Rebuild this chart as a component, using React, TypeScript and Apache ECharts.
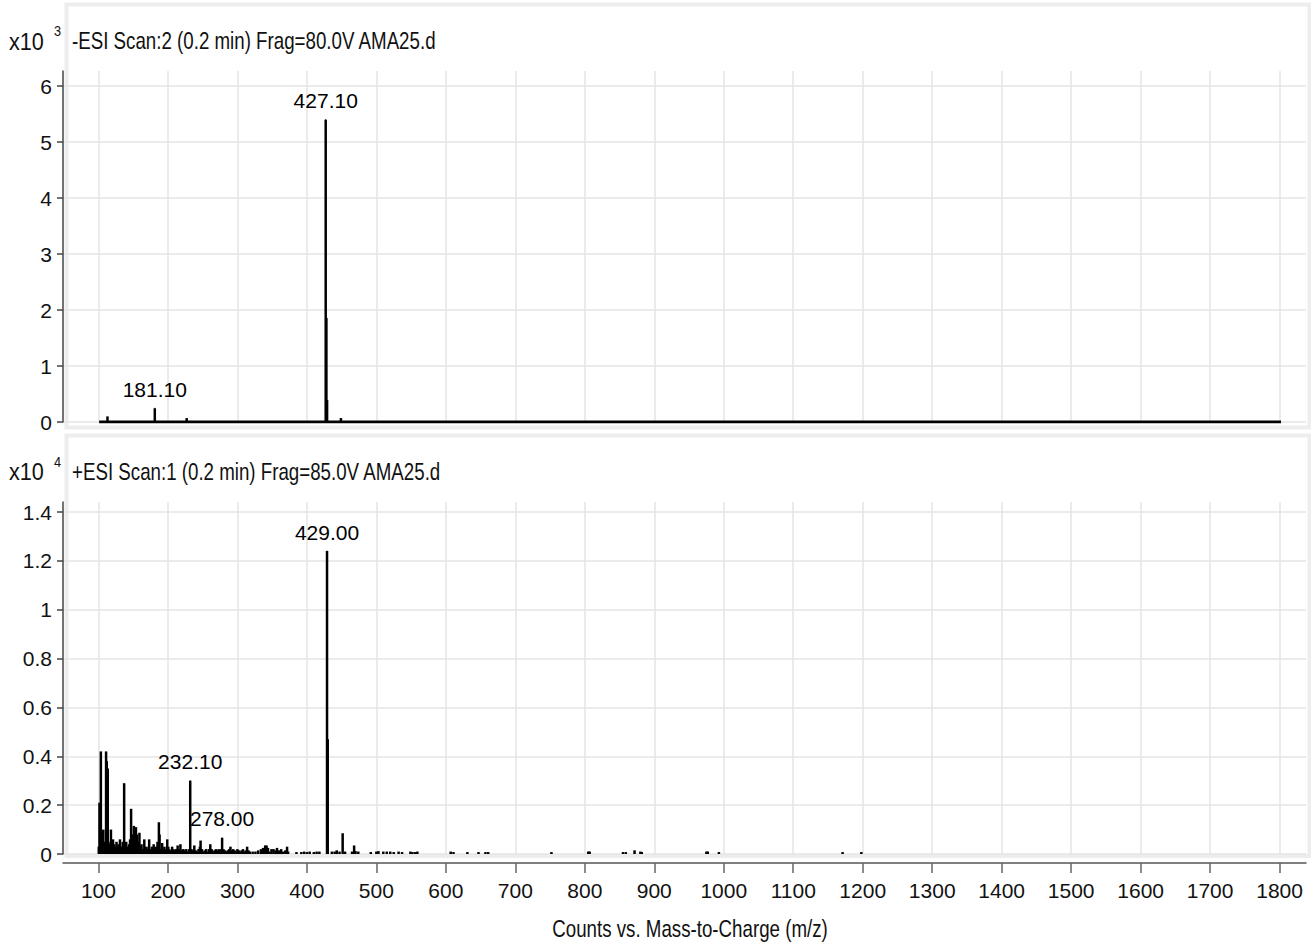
import React, { useEffect, useRef } from 'react';
import * as echarts from 'echarts';

const FONT = "'Liberation Sans', Arial, 'Noto Sans', sans-serif";

// ---- tick values ----
const xTickValues = [100, 200, 300, 400, 500, 600, 700, 800, 900, 1000, 1100, 1200, 1300, 1400, 1500, 1600, 1700, 1800];
const negYTicks = [0, 1, 2, 3, 4, 5, 6];
const posYTicks = [0, 0.2, 0.4, 0.6, 0.8, 1, 1.2, 1.4];

// ---- texts ----
const negTitle = '-ESI Scan:2 (0.2 min) Frag=80.0V AMA25.d';
const posTitle = '+ESI Scan:1 (0.2 min) Frag=85.0V AMA25.d';
const xAxisTitle = 'Counts vs. Mass-to-Charge (m/z)';
const negExponent = '3';
const posExponent = '4';

// ---- negative scan (x10^3 counts) ----
const negMz = [113.0, 181.1, 227.0, 427.1, 428.1, 429.1, 449.0];
const negInt = [0.10, 0.245, 0.07, 5.40, 1.86, 0.39, 0.07];
const negBaselineMz = [101, 1802];
const negLabelMz = [181.1, 427.1];
const negLabelInt = [0.245, 5.40];

// ---- positive scan (x10^4 counts) ----
const posMz = [
  100.5, 101.5, 102.5, 103.5, 104.5, 105.5, 107, 108, 109.5, 111, 112, 113.4, 114.5, 116, 118, 119.5,
  121, 122.5, 124, 126, 127.5, 129, 131, 133, 135, 137, 139, 140, 142, 144, 145.5, 147, 148.5, 150,
  151, 152.5, 154, 155.5, 157, 159, 160.5, 162, 164, 166, 168, 170, 172, 173, 175, 177, 179.5, 181,
  183, 185, 187, 188, 190, 191.7, 193, 195, 197, 199, 200.5, 202, 204, 206, 208, 210, 212, 214, 216,
  218, 220, 222, 224, 226, 228, 230, 232.1, 234, 236, 238, 240, 242, 244, 246, 247, 249, 251, 253,
  255, 257, 259, 261, 263, 265, 267, 269, 271, 273, 275, 276.5, 278, 280, 282, 284, 286, 288, 290,
  292, 294, 296, 298, 300, 302, 304, 306, 308, 310, 312, 314, 316, 318, 322, 326, 330, 334, 337, 340,
  342, 344, 346, 349, 352, 355, 357, 360, 363, 366, 369, 371.5, 373, 385, 392, 396, 400, 404, 410,
  414, 418, 429, 430, 436, 440, 443, 447, 451.5, 455, 465, 468, 470, 474, 492, 500, 503, 510, 515,
  520, 525, 532, 537, 549, 552, 556, 559, 607, 611, 631, 647, 657, 661, 752, 805, 807, 855, 859,
  871.6, 880, 882, 975, 977, 993, 1171, 1198
];
const posInt = [
  0.03, 0.21, 0.12, 0.42, 0.09, 0.06, 0.10, 0.03, 0.05, 0.42, 0.38, 0.35, 0.05, 0.04, 0.10, 0.05,
  0.06, 0.04, 0.03, 0.05, 0.03, 0.04, 0.06, 0.03, 0.05, 0.29, 0.04, 0.05, 0.03, 0.04, 0.06, 0.185, 0.05, 0.08,
  0.115, 0.10, 0.11, 0.08, 0.05, 0.087, 0.03, 0.04, 0.02, 0.06, 0.03, 0.02, 0.03, 0.06, 0.02, 0.03, 0.04, 0.02,
  0.03, 0.05, 0.13, 0.08, 0.02, 0.045, 0.02, 0.03, 0.02, 0.06, 0.03, 0.02, 0.015, 0.03, 0.02, 0.015, 0.02, 0.035, 0.02,
  0.04, 0.015, 0.02, 0.015, 0.02, 0.01, 0.02, 0.30, 0.02, 0.015, 0.035, 0.015, 0.01, 0.02, 0.03, 0.055, 0.02, 0.01, 0.015,
  0.02, 0.01, 0.02, 0.04, 0.02, 0.01, 0.015, 0.02, 0.015, 0.02, 0.015, 0.02, 0.066, 0.02, 0.015, 0.01, 0.015, 0.02, 0.03,
  0.015, 0.02, 0.015, 0.01, 0.02, 0.015, 0.01, 0.015, 0.02, 0.01, 0.015, 0.03, 0.015, 0.01, 0.01, 0.01, 0.015, 0.02, 0.025, 0.035,
  0.035, 0.025, 0.01, 0.02, 0.02, 0.015, 0.025, 0.015, 0.02, 0.01, 0.015, 0.03, 0.01, 0.008, 0.008, 0.01, 0.008, 0.01, 0.008,
  0.01, 0.01, 1.24, 0.47, 0.01, 0.01, 0.015, 0.01, 0.085, 0.01, 0.01, 0.035, 0.012, 0.01, 0.008, 0.01, 0.012, 0.01, 0.01,
  0.01, 0.008, 0.01, 0.008, 0.01, 0.008, 0.008, 0.01, 0.01, 0.008, 0.008, 0.008, 0.008, 0.008, 0.008, 0.01, 0.01, 0.008, 0.008,
  0.015, 0.01, 0.008, 0.01, 0.01, 0.008, 0.008, 0.008
];
const posLabelMz = [429.0, 232.1, 278.0];
const posLabelInt = [1.24, 0.30, 0.066];

export default function App() {
  const ref = useRef<HTMLDivElement>(null);

  useEffect(() => {
    if (!ref.current) return;
    const chart = echarts.init(ref.current, undefined, { renderer: 'svg' });

    const axisLabelStyle = { fontSize: 21, color: '#111', fontFamily: FONT };
    const splitLine = { show: true, lineStyle: { color: '#e4e4e4', width: 1.5 } };

    const xCommon = {
      type: 'value' as const,
      min: 49,
      max: 1838,
      splitLine,
    };

    const yCommon = (ticks: number[], max: number, gridIndex: number) => ({
      type: 'value' as const,
      gridIndex,
      min: 0,
      max,
      axisLine: { show: true, lineStyle: { color: '#444', width: 1.5 } },
      axisTick: { show: true, length: 6, customValues: ticks, lineStyle: { color: '#444', width: 1.5 } },
      axisLabel: { ...axisLabelStyle, margin: 11, customValues: ticks, formatter: (v: number) => String(+v.toFixed(2)) },
      splitLine,
    });

    const labelSeries = (mz: number[], ints: number[], idx: number) => ({
      type: 'scatter' as const,
      xAxisIndex: idx,
      yAxisIndex: idx,
      silent: true,
      symbolSize: 1,
      itemStyle: { color: '#000', opacity: 1 },
      z: 5,
      data: mz.map((m, i) => [m, ints[i]]),
      label: {
        show: true,
        position: 'top',
        distance: 8,
        fontSize: 21,
        color: '#000',
        opacity: 1,
        fontFamily: FONT,
        formatter: (p: any) => p.value[0].toFixed(2),
      },
    });

    const bigText = { fontSize: 24, fill: '#111', fontFamily: FONT, verticalAlign: 'middle' as const };

    chart.setOption({
      animation: false,
      backgroundColor: '#fff',
      textStyle: { fontFamily: FONT },
      grid: [
        { left: 63, right: 5, top: 71, height: 351 },
        { left: 63, right: 5, top: 502, height: 352 },
      ],
      xAxis: [
        {
          ...xCommon,
          gridIndex: 0,
          axisLine: { show: false },
          axisTick: { show: false, customValues: xTickValues },
          axisLabel: { show: false, customValues: xTickValues },
        },
        {
          ...xCommon,
          gridIndex: 1,
          offset: 9,
          axisLine: { show: true, onZero: false, lineStyle: { color: '#555', width: 1.5 } },
          axisTick: { show: true, length: 10, customValues: xTickValues, lineStyle: { color: '#666', width: 1.5 } },
          axisLabel: { ...axisLabelStyle, margin: 17, customValues: xTickValues, formatter: (v: number) => String(v) },
        },
      ],
      yAxis: [yCommon(negYTicks, 6.27, 0), yCommon(posYTicks, 1.441, 1)],
      graphic: [
        { type: 'rect', z: 0, silent: true, shape: { x: 66.5, y: 4.5, width: 1243, height: 423 }, style: { fill: 'none', stroke: '#ededed', lineWidth: 4 } },
        { type: 'rect', z: 0, silent: true, shape: { x: 66.5, y: 435.5, width: 1243, height: 420.5 }, style: { fill: 'none', stroke: '#ededed', lineWidth: 4 } },
        { type: 'text', x: 72, y: 41, scaleX: 0.78, style: { text: negTitle, ...bigText } },
        { type: 'text', x: 72, y: 472, scaleX: 0.78, style: { text: posTitle, ...bigText } },
        { type: 'text', x: 9, y: 42, scaleX: 0.9, style: { text: 'x10', ...bigText } },
        { type: 'text', x: 54, y: 31, scaleX: 0.85, style: { text: negExponent, ...bigText, fontSize: 15 } },
        { type: 'text', x: 9, y: 472, scaleX: 0.9, style: { text: 'x10', ...bigText } },
        { type: 'text', x: 54, y: 462, scaleX: 0.85, style: { text: posExponent, ...bigText, fontSize: 15 } },
        { type: 'text', x: 690, y: 929, scaleX: 0.78, style: { text: xAxisTitle, ...bigText, align: 'center' } },
      ],
      series: [
        {
          type: 'line',
          xAxisIndex: 0,
          yAxisIndex: 0,
          silent: true,
          symbol: 'none',
          data: negBaselineMz.map((m) => [m, 0]),
          lineStyle: { color: '#000', width: 3 },
          z: 3,
        },
        {
          type: 'bar',
          xAxisIndex: 0,
          yAxisIndex: 0,
          silent: true,
          barWidth: 2.5,
          itemStyle: { color: '#000' },
          data: negMz.map((m, i) => [m, negInt[i]]),
          z: 4,
        },
        labelSeries(negLabelMz, negLabelInt, 0),
        {
          type: 'bar',
          xAxisIndex: 1,
          yAxisIndex: 1,
          silent: true,
          barWidth: 2.5,
          itemStyle: { color: '#000' },
          data: posMz.map((m, i) => [m, posInt[i]]),
          z: 4,
        },
        labelSeries(posLabelMz, posLabelInt, 1),
      ],
    });

    return () => chart.dispose();
  }, []);

  return (
    <div
      ref={ref}
      style={{ position: 'absolute', left: 0, top: 0, width: 1311, height: 945 }}
    />
  );
}
